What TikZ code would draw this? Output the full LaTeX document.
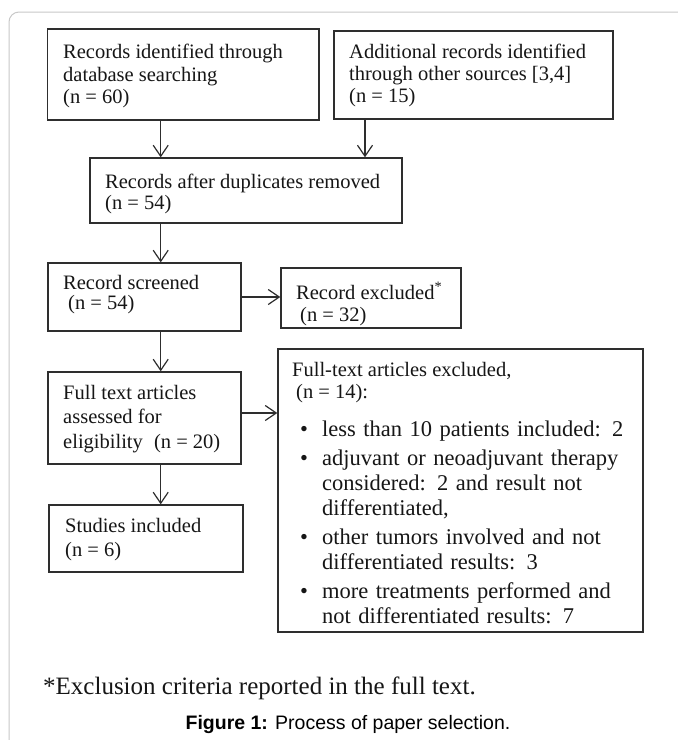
\documentclass[tikz,border=0pt]{standalone}
\usepackage{fontspec}
\setmainfont{Liberation Serif}
\newfontfamily\capfont{Liberation Sans}
\usetikzlibrary{arrows.meta}
\definecolor{framec}{HTML}{C8C8C8}
\definecolor{boxc}{HTML}{2E2E2E}
\definecolor{txtc}{HTML}{161616}
\newcommand\bulitem[1]{\par\hangindent=25pt\hangafter=1\noindent\makebox[25pt][l]{\hspace{3pt}\textbullet}#1\par\vspace{4pt}}
\tikzset{
  box/.style={draw=boxc, line width=1.4pt, rectangle, inner sep=0pt, fill=none},
  boxtxt/.style={anchor=north west, inner sep=0pt, align=left, text=txtc, font=\fontsize{20.5}{22.5}\selectfont},
  arr/.style={draw=boxc, line width=1.2pt, -{Straight Barb[length=11pt,width=15pt,line width=1.2pt]}},
}
\begin{document}
\begin{tikzpicture}[x=1pt,y=-1pt]
\useasboundingbox (0,0) rectangle (678,740);
\clip (0,0) rectangle (678,740);
\fill[white] (0,0) rectangle (678,740);
% outer frame
\draw[framec, line width=1pt, rounded corners=10pt] (720,12) -- (9,12) -- (9,780);

% boxes
\node[box, minimum width=271.5pt, minimum height=91pt] (b1) at (183.25,74.5) {};
\node[box, minimum width=279pt, minimum height=88pt] (b2) at (473.5,75) {};
\node[box, minimum width=312pt, minimum height=65pt] (dup) at (246,190.5) {};
\node[box, minimum width=193pt, minimum height=68pt] (scr) at (144.5,297) {};
\node[box, minimum width=180pt, minimum height=60pt] (exc) at (371,298) {};
\node[box, minimum width=193pt, minimum height=92pt] (ft) at (144.5,418) {};
\node[box, minimum width=365pt, minimum height=283pt] (fte) at (460.5,490.5) {};
\node[box, minimum width=194pt, minimum height=67pt] (stu) at (146,538.5) {};

% texts
\node[boxtxt] (t1) at (63,44) {Records identified through\\database searching\\(n = 60)};
\node[boxtxt, font=\fontsize{20.5}{22}\selectfont] (t2) at (349,44) {Additional records identified\\through other sources [3,4]\\(n = 15)};
\node[boxtxt, font=\fontsize{20.5}{21}\selectfont] (t3) at (105,174) {Records after duplicates removed\\(n = 54)};
\node[boxtxt, font=\fontsize{20.5}{20}\selectfont] (t4) at (63,275) {Record screened\\\hspace{5pt}(n = 54)};
\node[boxtxt, font=\fontsize{20.5}{22}\selectfont] (t5) at (296,282) {Record excluded\textsuperscript{*}\\\hspace{4pt}(n = 32)};
\node[boxtxt, font=\fontsize{20.5}{24.5}\selectfont] (t6) at (63,385) {Full text articles\\assessed for\\eligibility\hspace{6pt} (n = 20)};
\node[boxtxt, font=\fontsize{20.5}{24}\selectfont] (t7) at (65,518) {Studies included\\(n = 6)};
\node[boxtxt, font=\fontsize{20.5}{22}\selectfont] (t8) at (292,362) {Full-text articles excluded,\\\hspace{4pt}(n = 14):};
\node[boxtxt, text width=340pt, font=\fontsize{22.5}{25}\selectfont] (t9) at (297,411) {\parskip=0pt
\bulitem{less than 10 patients included: 2}
\bulitem{adjuvant or neoadjuvant therapy\newline considered: 2 and result not\newline differentiated,}
\bulitem{other tumors involved and not\newline differentiated results: 3}
\bulitem{more treatments performed and\newline not differentiated results: 7}};

% connectors
\coordinate (c1) at (160.7,0);
\coordinate (c2) at (365,0);
\coordinate (c3) at (0,413);
\draw[arr] (b1.south -| c1) -- (dup.north -| c1);
\draw[arr] (b2.south -| c2) -- (dup.north -| c2);
\draw[arr] (dup.south -| c1) -- (scr.north -| c1);
\draw[arr] (scr.east) -- (exc.west |- scr.east);
\draw[arr] (scr.south -| c1) -- (ft.north -| c1);
\draw[arr] (ft.east |- c3) -- (fte.west |- c3);
\draw[arr] (ft.south -| c1) -- (stu.north -| c1);

% footnote and caption
\node[anchor=base west, inner sep=0pt, text=txtc, font=\fontsize{25}{28}\selectfont] (fn) at (43,694) {*Exclusion criteria reported in the full text.};
\node[anchor=base, inner sep=0pt, text=black, font=\capfont\fontsize{19.5}{21}\selectfont] (cap) at (348,729) {\textbf{Figure 1:} Process of paper selection.};
\end{tikzpicture}
\end{document}
